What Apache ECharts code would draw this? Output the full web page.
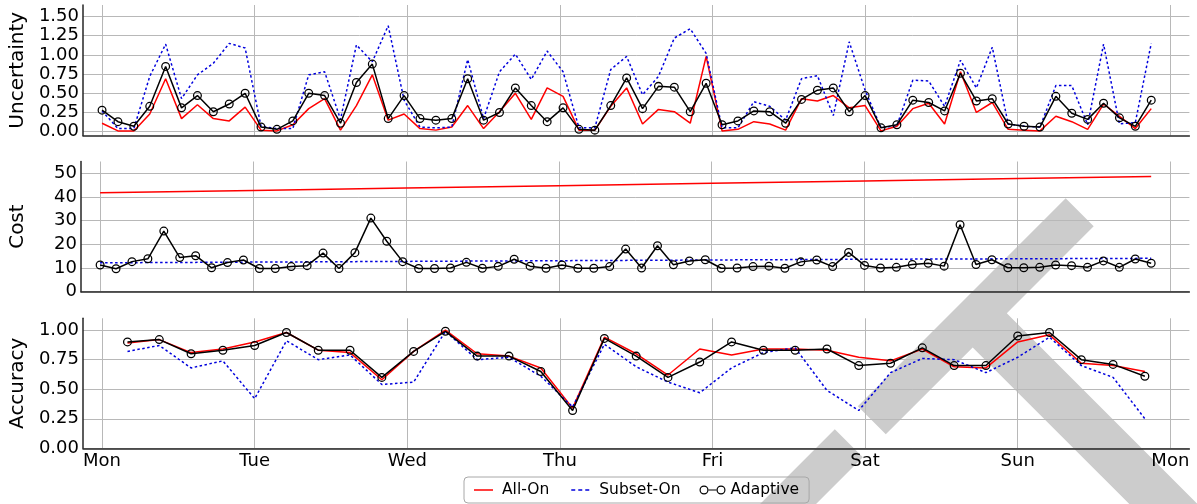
<!DOCTYPE html>
<html>
<head>
<meta charset="utf-8">
<script src="https://cdn.jsdelivr.net/npm/echarts@6/dist/echarts.min.js"></script>
<style>
html,body{margin:0;padding:0;background:#fff}
#chart{width:1197px;height:504px}
</style>
</head>
<body>
<div id="chart"></div>
<script>
// Weekly comparison of three sensing strategies: uncertainty, cost and accuracy.

// x axis: hours since Monday 00:00, labelled by day
const dayHours = [0, 24, 48, 72, 96, 120, 144, 168];
const dayLabels = ['Mon', 'Tue', 'Wed', 'Thu', 'Fri', 'Sat', 'Sun', 'Mon'];

// y tick values for each panel
const uncertaintyTicks = [0, 0.25, 0.5, 0.75, 1.0, 1.25, 1.5];
const costTicks = [0, 10, 20, 30, 40, 50];
const accuracyTicks = [0, 0.25, 0.5, 0.75, 1.0];

// sample times (hours) for the uncertainty and cost panels: one reading every 2.5 h
const sampleHours = Array.from({ length: 67 }, (_, i) => i * 2.5);

const uncertaintyAllOn = [
  0.11, 0.01, 0.01, 0.23, 0.69, 0.17, 0.35, 0.17, 0.14, 0.32,
  0.02, 0.01, 0.09, 0.30, 0.43, 0.02, 0.34, 0.74, 0.15, 0.23,
  0.04, 0.02, 0.06, 0.34, 0.04, 0.26, 0.50, 0.16, 0.57, 0.46,
  0.02, 0.02, 0.33, 0.57, 0.10, 0.29, 0.26, 0.11, 0.98, 0.01,
  0.03, 0.13, 0.10, 0.02, 0.43, 0.40, 0.47, 0.31, 0.34, 0.01,
  0.07, 0.30, 0.37, 0.10, 0.78, 0.25, 0.38, 0.03, 0.02, 0.01,
  0.20, 0.13, 0.03, 0.36, 0.20, 0.04, 0.30
];
const uncertaintySubsetOn = [
  0.27, 0.04, 0.04, 0.72, 1.14, 0.43, 0.74, 0.89, 1.15, 1.09,
  0.07, 0.04, 0.04, 0.74, 0.78, 0.16, 1.13, 0.91, 1.38, 0.41,
  0.06, 0.05, 0.06, 0.94, 0.17, 0.78, 1.01, 0.68, 1.05, 0.78,
  0.05, 0.05, 0.81, 0.98, 0.48, 0.72, 1.22, 1.34, 1.02, 0.05,
  0.05, 0.39, 0.33, 0.15, 0.69, 0.73, 0.21, 1.17, 0.54, 0.05,
  0.08, 0.67, 0.66, 0.33, 0.93, 0.57, 1.10, 0.10, 0.07, 0.06,
  0.60, 0.60, 0.09, 1.14, 0.10, 0.12, 1.15
];
const uncertaintyAdaptive = [
  0.28, 0.13, 0.07, 0.33, 0.85, 0.31, 0.47, 0.26, 0.36, 0.50,
  0.06, 0.03, 0.14, 0.50, 0.47, 0.11, 0.64, 0.88, 0.17, 0.47,
  0.17, 0.15, 0.17, 0.69, 0.15, 0.25, 0.57, 0.34, 0.13, 0.31,
  0.03, 0.02, 0.34, 0.70, 0.30, 0.59, 0.58, 0.26, 0.63, 0.09,
  0.14, 0.27, 0.26, 0.11, 0.42, 0.54, 0.57, 0.26, 0.47, 0.05,
  0.09, 0.41, 0.38, 0.27, 0.76, 0.40, 0.43, 0.10, 0.07, 0.06,
  0.46, 0.24, 0.16, 0.37, 0.18, 0.07, 0.41
];

// cost of the two fixed strategies, read at day boundaries
const costTrendHours = [0, 24, 48, 72, 96, 120, 144, 165];
const costAllOn = [41.8, 42.8, 43.8, 44.8, 45.8, 46.8, 47.8, 48.7];
const costSubsetOn = [12.2, 12.5, 12.8, 13.1, 13.4, 13.7, 13.9, 14.1];
const costAdaptive = [
  11.3, 9.7, 12.7, 13.9, 25.6, 14.4, 15.2, 10.1, 12.3, 13.4,
  9.8, 9.8, 10.6, 11.0, 16.3, 9.8, 16.5, 31.1, 21.3, 12.7,
  9.8, 9.8, 10.0, 12.4, 9.9, 10.7, 13.7, 10.8, 9.9, 11.3,
  9.9, 9.9, 10.6, 18.0, 10.0, 19.4, 11.4, 13.0, 13.5, 9.9,
  10.0, 10.6, 10.8, 9.9, 12.6, 13.4, 10.6, 16.6, 11.1, 10.0,
  10.3, 11.5, 12.0, 10.8, 28.3, 11.5, 13.5, 10.1, 10.1, 10.3,
  11.3, 11.0, 10.3, 13.0, 10.3, 13.8, 12.0
];

// accuracy is evaluated every 5 h starting at 04:00 Monday
const accuracyHours = Array.from({ length: 33 }, (_, k) => 4 + k * 5);
const accuracyAllOn = [
  0.89, 0.92, 0.81, 0.84, 0.90, 0.98, 0.83, 0.81, 0.58, 0.82,
  1.00, 0.80, 0.78, 0.68, 0.34, 0.94, 0.80, 0.62, 0.84, 0.79,
  0.84, 0.84, 0.83, 0.77, 0.74, 0.84, 0.69, 0.68, 0.90, 0.96,
  0.72, 0.70, 0.65
];
const accuracySubsetOn = [
  0.82, 0.87, 0.68, 0.74, 0.42, 0.91, 0.75, 0.79, 0.54, 0.56,
  0.99, 0.75, 0.77, 0.61, 0.35, 0.88, 0.69, 0.56, 0.47, 0.68,
  0.81, 0.85, 0.49, 0.32, 0.64, 0.76, 0.75, 0.64, 0.77, 0.94,
  0.70, 0.60, 0.25
];
const accuracyAdaptive = [
  0.90, 0.92, 0.80, 0.83, 0.87, 0.98, 0.83, 0.83, 0.60, 0.82,
  0.99, 0.78, 0.78, 0.65, 0.32, 0.93, 0.78, 0.60, 0.73, 0.90,
  0.83, 0.83, 0.84, 0.70, 0.72, 0.85, 0.70, 0.70, 0.95, 0.98,
  0.75, 0.71, 0.61
];

const FONT = '"DejaVu Sans", sans-serif';
const SPINE = '#262626';
const GRID = '#b8b8b8';
const RED = '#ff0000';
const BLUE = '#0000dd';

// open circle marker (ring) so the line stays visible inside it
const RING = 'path://M-1,0A1,1 0 1,0 1,0A1,1 0 1,0 -1,0Z M-0.72,0A0.72,0.72 0 1,1 0.72,0A0.72,0.72 0 1,1 -0.72,0Z';
// legend handles, all on a 26x9 box (tiny corner marks fix the box size)
const BOX = 'M0,0L0.01,0L0,0.01Z M26,9L25.99,9L26,8.99Z ';
const ICON_SOLID = 'path://' + BOX + 'M3,3.8H22V5.2H3Z';
const ICON_DASH = 'path://' + BOX + 'M3,3.8H7V5.2H3Z M10,3.8H14V5.2H10Z M17,3.8H21V5.2H17Z';
const ICON_MARK = 'path://M0,4.5A4.5,4.5 0 1,0 9,4.5A4.5,4.5 0 1,0 0,4.5Z M1.2,4.5A3.3,3.3 0 1,1 7.8,4.5A3.3,3.3 0 1,1 1.2,4.5Z ' +
  'M17,4.5A4.5,4.5 0 1,0 26,4.5A4.5,4.5 0 1,0 17,4.5Z M18.2,4.5A3.3,3.3 0 1,1 24.8,4.5A3.3,3.3 0 1,1 18.2,4.5Z M8.8,3.9H17.2V5.1H8.8Z';

const pairs = (xs, ys) => ys.map((v, i) => [xs[i], v]);

function xAxis(gridIndex, showLabels) {
  return {
    type: 'value', gridIndex, min: -3, max: 171,
    axisLine: { show: true, onZero: false, lineStyle: { color: SPINE, width: 1.5 } },
    axisTick: { show: false, customValues: dayHours },
    axisLabel: {
      show: showLabels, customValues: dayHours, margin: 4,
      formatter: v => dayLabels[dayHours.indexOf(v)],
      fontSize: 18, fontFamily: FONT, color: '#000'
    },
    splitLine: { show: true, lineStyle: { color: GRID, width: 1 } }
  };
}

function yAxis(gridIndex, name, min, max, ticks, digits) {
  return {
    type: 'value', gridIndex, min, max, name,
    nameLocation: 'middle', nameGap: 53,
    nameTextStyle: { fontSize: 20, fontFamily: FONT, color: '#000' },
    axisLine: { show: true, onZero: false, lineStyle: { color: SPINE, width: 1.5 } },
    axisTick: { show: false, customValues: ticks },
    axisLabel: {
      customValues: ticks, margin: 4,
      formatter: v => v.toFixed(digits),
      fontSize: 18, fontFamily: FONT, color: '#000'
    },
    splitLine: { show: true, lineStyle: { color: GRID, width: 1 } }
  };
}

function plain(name, idx, data, color, dashed) {
  return {
    name, type: 'line', xAxisIndex: idx, yAxisIndex: idx, data,
    symbol: 'none', showSymbol: false, silent: true,
    lineStyle: { color, width: 1.5, type: dashed ? [2.5, 2.5] : 'solid' },
    itemStyle: { color }, z: 2
  };
}

function adaptive(idx, data) {
  return {
    name: 'Adaptive', type: 'line', xAxisIndex: idx, yAxisIndex: idx, data,
    symbol: RING, symbolSize: 9, showSymbol: true, silent: true,
    lineStyle: { color: '#000', width: 1.5 },
    itemStyle: { color: '#000' }, z: 3
  };
}

const chart = echarts.init(document.getElementById('chart'), null, { renderer: 'canvas' });

chart.setOption({
  animation: false,
  backgroundColor: '#fff',
  textStyle: { fontFamily: FONT },
  grid: [
    { left: 80.2, width: 1109.2, top: 5, height: 130.5 },
    { left: 80.2, width: 1109.2, top: 161.5, height: 130.2 },
    { left: 80.2, width: 1109.2, top: 318.3, height: 130 }
  ],
  xAxis: [xAxis(0, false), xAxis(1, false), xAxis(2, true)],
  yAxis: [
    yAxis(0, 'Uncertainty', -0.05, 1.65, uncertaintyTicks, 2),
    yAxis(1, 'Cost', 0, 55, costTicks, 0),
    yAxis(2, 'Accuracy', 0, 1.1, accuracyTicks, 2)
  ],
  legend: {
    left: 464, top: 477,
    orient: 'horizontal',
    padding: [5, 10, 5, 7],
    itemGap: 19, itemWidth: 26, itemHeight: 9,
    borderColor: '#a8a8a8', borderWidth: 1, borderRadius: 4,
    backgroundColor: 'transparent',
    selectedMode: false,
    textStyle: { fontSize: 15.5, fontFamily: FONT, color: '#000' },
    itemStyle: { borderWidth: 0 },
    data: [
      { name: 'All-On', icon: ICON_SOLID, itemStyle: { color: RED, borderWidth: 0 } },
      { name: 'Subset-On', icon: ICON_DASH, itemStyle: { color: BLUE, borderWidth: 0 } },
      { name: 'Adaptive', icon: ICON_MARK, itemStyle: { color: '#000', borderWidth: 0 } }
    ]
  },
  graphic: [{
    type: 'text', silent: true, z: -10,
    x: 1225.7, y: 341.5, rotation: Math.PI / 4,
    style: {
      text: 'DRAFT', font: 'normal 520px "Liberation Sans"',
      fill: '#cccccc', align: 'right', verticalAlign: 'middle'
    }
  }],
  series: [
    plain('All-On', 0, pairs(sampleHours, uncertaintyAllOn), RED, false),
    plain('Subset-On', 0, pairs(sampleHours, uncertaintySubsetOn), BLUE, true),
    adaptive(0, pairs(sampleHours, uncertaintyAdaptive)),

    plain('All-On', 1, pairs(costTrendHours, costAllOn), RED, false),
    plain('Subset-On', 1, pairs(costTrendHours, costSubsetOn), BLUE, true),
    adaptive(1, pairs(sampleHours, costAdaptive)),

    plain('All-On', 2, pairs(accuracyHours, accuracyAllOn), RED, false),
    plain('Subset-On', 2, pairs(accuracyHours, accuracySubsetOn), BLUE, true),
    adaptive(2, pairs(accuracyHours, accuracyAdaptive))
  ]
});
</script>
</body>
</html>
